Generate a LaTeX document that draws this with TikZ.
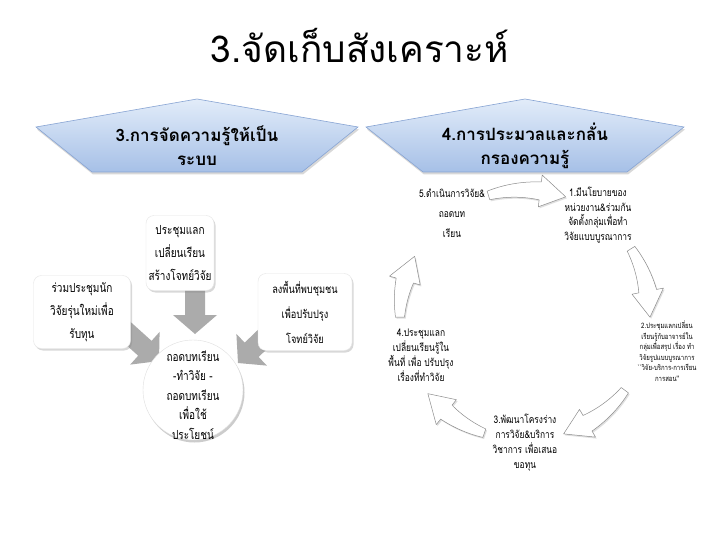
\documentclass[tikz,border=0pt]{standalone}
\usepackage{fontspec}
\newfontfamily\thaifont[Script=Thai]{Loma}
\newfontfamily\thaicond[Script=Thai,FakeStretch=0.8]{Loma}
\usetikzlibrary{shadows}
\definecolor{hexfillA}{HTML}{E2ECF9}
\definecolor{hexfillB}{HTML}{A6C0E7}
\definecolor{hexline}{HTML}{86A3D3}
\definecolor{cycline}{HTML}{8C8C8C}
\definecolor{arrgray}{HTML}{ABABAB}
\tikzset{
  hexbox/.style={top color=hexfillA,bottom color=hexfillB,draw=hexline,line width=0.6pt,
     drop shadow={opacity=0.3,shadow xshift=1pt,shadow yshift=-2.5pt}},
  hextext/.style={align=center,font=\thaifont\bfseries\fontsize{17}{24}\selectfont},
  whitebox/.style={rectangle,rounded corners=8pt,fill=white,draw=gray!20,line width=0.4pt,
     drop shadow={opacity=0.3,shadow xshift=1.5pt,shadow yshift=-2pt},align=center,
     inner sep=2pt,font=\thaicond\fontsize{12.5}{23}\selectfont},
  roundbox/.style={circle,fill=white,draw=gray!25,line width=0.4pt,minimum size=100pt,
     drop shadow={opacity=0.4,shadow xshift=1.5pt,shadow yshift=-2.5pt}},
  roundtext/.style={align=center,font=\thaicond\fontsize{12.5}{19.5}\selectfont},
  grayarrow/.style={fill=arrgray},
  cyctext/.style={align=center,font=\thaicond\fontsize{10.5}{#1}\selectfont},
  cycarrow/.style={fill=white,draw=cycline,line width=0.5pt,line join=round,
     drop shadow={opacity=0.25,shadow xshift=1.2pt,shadow yshift=-1.5pt}},
}
% straight block arrow: tip at #1, direction #2 (canvas degrees), length #3
\newcommand{\blockarrow}[3]{%
  \begin{scope}[shift={#1},rotate=#2]
    \path[grayarrow] (0,0) -- (-19,22) -- (-19,10) -- (-#3,10) -- (-#3,-10) -- (-19,-10) -- (-19,-22) -- cycle;
  \end{scope}}
% curved arrow: #1 start angle, #2 tip angle (clockwise, #1>#2)
\newcommand{\curvarrow}[2]{%
  \pgfmathsetmacro{\hb}{#2+12}%
  \path[cycarrow] plot[domain=#1:\hb,samples=24,smooth] (\x:{125+4.5+4.5*(\x-(#1))/(\hb-(#1))})
    -- (\hb:141) -- (#2:125) -- (\hb:109)
    -- plot[domain=\hb:#1,samples=24,smooth] (\x:{125-4.5-4.5*(\x-(#1))/(\hb-(#1))}) -- cycle;}
\begin{document}
\begin{tikzpicture}[x=1pt,y=-1pt]
\useasboundingbox[fill=white] (0,0) rectangle (720,540);
% title
\node[font=\thaifont\fontsize{37}{40}\selectfont] (title) at (360,45) {3.จัดเก็บสังเคราะห์};
% banner shapes
\path[hexbox] (36,127) -- (197,99) -- (358,127) -- (302,172) -- (92,172) -- cycle;
\node[hextext] (h3) at (197,146) {3.การจัดความรู้ให้เป็น\\ระบบ};
\path[hexbox] (366,127) -- (525,99) -- (684,127) -- (627,172) -- (423,172) -- cycle;
\node[hextext] (h4) at (525,146) {4.การประมวลและกลั่น\\กรองความรู้};
% left group: gray arrows
\blockarrow{(195,334)}{-90}{50}
\blockarrow{(159,361)}{-42}{55}
\blockarrow{(238,363)}{-136}{55}
% boxes
\node[whitebox,minimum width=68pt,minimum height=75pt] (btop) at (180,253) {ประชุมแลก\\เปลี่ยนเรียน\\สร้างโจทย์วิจัย};
\node[whitebox,minimum width=97pt,minimum height=73pt] (bleft) at (82,312) {ร่วมประชุมนัก\\วิจัยรุ่นใหม่เพื่อ\\รับทุน};
\node[whitebox,minimum width=94pt,minimum height=77pt,font=\thaicond\fontsize{11.5}{25}\selectfont] (bright) at (305,312) {ลงพื้นที่พบชุมชน\\เพื่อปรับปรุง\\โจทย์วิจัย};
\node[roundbox] (circ) at (193,390) {};
\node[roundtext] (ctext) at (193,395) {ถอดบทเรียน\\-ทำวิจัย -\\ถอดบทเรียน\\เพื่อใช้\\ประโยชน์};
% right cycle
\begin{scope}[shift={(525,315)},y=1pt]
  \curvarrow{107}{71}
  \curvarrow{32}{-1}
  \curvarrow{-37}{-72}
  \curvarrow{-109}{-141}
  \curvarrow{181}{152}
\end{scope}
\node[cyctext=20] (t5) at (452,213) {5.ดำเนินการวิจัย\&\\ถอดบท\\เรียน};
\node[cyctext=14.5] (t1) at (598,215) {1.มีนโยบายของ\\หน่วยงาน\&ร่วมกัน\\จัดตั้งกลุ่มเพื่อทำ\\วิจัยแบบบูรณาการ};
\node[align=center,font=\thaicond\fontsize{7.5}{10.5}\selectfont] (t2) at (667,351) {2.ประชุมแลกเปลี่ยน\\เรียนรู้กับอาจารย์ใน\\กลุ่มเพื่อสรุป เรื่อง ทำ\\วิจัยรูปแบบบูรณาการ\\``วิจัย-บริการ-การเรียน\\การสอน''};
\node[cyctext=15] (t3) at (525,443) {3.พัฒนาโครงร่าง\\การวิจัย\&บริการ\\วิชาการ เพื่อเสนอ\\ขอทุน};
\node[cyctext=15] (t4) at (421,355) {4.ประชุมแลก\\เปลี่ยนเรียนรู้ใน\\พื้นที่ เพื่อ ปรับปรุง\\เรื่องที่ทำวิจัย};
\end{tikzpicture}
\end{document}
